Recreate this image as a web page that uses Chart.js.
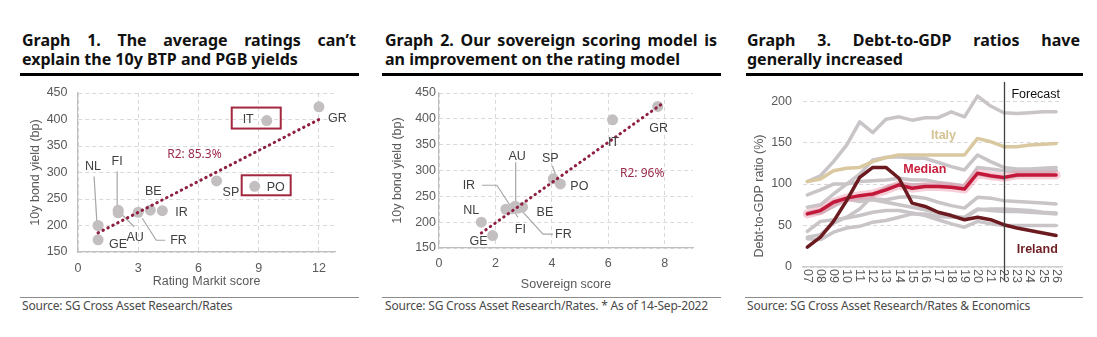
<!DOCTYPE html>
<html>
<head>
<meta charset="utf-8">
<script src="https://cdn.jsdelivr.net/npm/chart.js@4.4.1/dist/chart.umd.min.js"></script>
<style>
  body { margin: 0; background: #fff; width: 1097px; height: 337px; overflow: hidden; position: relative; font-family: "Noto Sans", sans-serif; }
  .title { position: absolute; top: 31px; font-weight: 700; font-size: 16px; line-height: 19px; color: #111; }
  .title div { white-space: nowrap; }
  .title .j { text-align: justify; text-align-last: justify; }
  .rule { position: absolute; top: 73px; height: 2.5px; background: #000; }
  .src-line { position: absolute; top: 297px; height: 1px; background: #8c8c8c; }
  .src { position: absolute; top: 299px; font-size: 12px; line-height: 14px; color: #4a4a4a; letter-spacing: -0.2px; white-space: nowrap; }
  canvas { position: absolute; }
</style>
</head>
<body>

<div class="title" style="left:22px;width:334px"><div class="j">Graph 1. The average ratings can’t</div><div>explain the 10y BTP and PGB yields</div></div>
<div class="rule" style="left:20px;width:339px"></div>
<canvas id="g1" width="340" height="212" style="left:20px;top:80px"></canvas>
<div class="src-line" style="left:20px;width:339px"></div>
<div class="src" style="left:22px">Source: SG Cross Asset Research/Rates</div>

<div class="title" style="left:385px;width:332px"><div class="j">Graph 2. Our sovereign scoring model is</div><div>an improvement on the rating model</div></div>
<div class="rule" style="left:382px;width:339px"></div>
<canvas id="g2" width="335" height="215" style="left:385px;top:80px"></canvas>
<div class="src-line" style="left:382px;width:339px"></div>
<div class="src" style="left:385px">Source: SG Cross Asset Research/Rates. * As of 14-Sep-2022</div>

<div class="title" style="left:747px;width:333px"><div class="j">Graph 3. Debt-to-GDP ratios have</div><div>generally increased</div></div>
<div class="rule" style="left:746px;width:337px"></div>
<canvas id="g3" width="335" height="214" style="left:745px;top:78px"></canvas>
<div class="src-line" style="left:745px;width:338px"></div>
<div class="src" style="left:747px">Source: SG Cross Asset Research/Rates &amp; Economics</div>

<script>
// graph 1 & 2: same country order
const countries = ["GR", "IT", "PO", "SP", "IR", "BE", "FR", "AU", "FI", "NL", "GE"];
const markitScore = [12.0, 9.4, 8.8, 6.9, 4.2, 3.6, 3.0, 2.0, 2.0, 1.0, 1.0];
const yieldMarkit = [424, 398, 274, 284, 228, 229, 225, 224, 229, 200, 173];
const trendMarkitX = [1, 12];
const trendMarkitY = [186, 400];
const r2Markit = "R2: 85.3%";
const boxedCountries = ["IT", "PO"];

const sovereignScore = [7.75, 6.15, 4.3, 4.05, 2.37, 2.96, 2.8, 2.7, 2.6, 1.5, 1.9];
const yieldSovereign = [424, 398, 274, 284, 225, 229, 227, 231, 226, 200, 174];
const trendSovX = [1.5, 7.9];
const trendSovY = [179, 429];
const r2Sov = "R2: 96%";

// graph 3
const years = ["07", "08", "09", "10", "11", "12", "13", "14", "15", "16", "17", "18", "19", "20", "21", "22", "23", "24", "25", "26"];
const forecastFrom = "22";
const greece      = [103, 110, 127, 147, 175, 162, 178, 181, 177, 180, 180, 187, 181, 206, 194, 186, 185, 186, 187, 187];
const italy       = [103, 106, 116, 119, 120, 127, 132, 135, 135, 135, 135, 135, 135, 155, 151, 145, 145, 147, 148, 149];
const portugal    = [72, 75, 88, 100, 112, 129, 132, 133, 131, 131, 126, 121, 117, 135, 127, 120, 118, 118, 119, 120];
const belgium     = [87, 93, 100, 100, 103, 104, 105, 107, 105, 105, 102, 100, 98, 112, 109, 107, 110, 112, 114, 116];
const spain       = [36, 39, 53, 60, 70, 86, 96, 100, 99, 99, 98, 98, 98, 120, 118, 116, 115, 115, 116, 117];
const austria     = [65, 68, 79, 82, 82, 82, 81, 84, 85, 83, 78, 74, 71, 84, 83, 80, 79, 78, 77, 76];
const germany     = [64, 65, 73, 82, 79, 81, 78, 75, 72, 69, 65, 62, 59, 69, 70, 70, 69, 68, 66, 65];
const finland     = [34, 33, 42, 47, 49, 54, 56, 60, 64, 64, 61, 60, 60, 70, 68, 67, 67, 66, 65, 64];
const netherlands = [43, 55, 57, 59, 62, 66, 68, 68, 65, 62, 57, 52, 48, 55, 52, 50, 50, 50, 50, 50];
const median      = [64, 68, 78, 83, 86, 88, 93, 99, 95, 97, 97, 96, 94, 113, 110, 108, 111, 111, 111, 111];
const ireland     = [24, 36, 55, 80, 108, 120, 120, 107, 77, 73, 66, 62, 57, 60, 57, 51, 47, 44, 41, 38];

const AX_FONT = "'Liberation Sans', Arial, sans-serif";
const TICK_COLOR = "#595959";
const GRID_COLOR = "#d9d9d9";
const AXIS_COLOR = "#bfbfbf";

Chart.defaults.font.family = AX_FONT;
Chart.defaults.color = TICK_COLOR;

// fixed axis sizes so the plot areas land where the reference has them
function fixWidth(w) {
  return (s) => { s.width = w; s.paddingTop = s.paddingBottom = s.paddingLeft = s.paddingRight = 0; };
}
function fixHeight(h) {
  return (s) => { s.height = h; s.paddingTop = s.paddingBottom = s.paddingLeft = s.paddingRight = 0; };
}
// ticks only at whole steps from the axis minimum, never at an odd max
function onStep(step) {
  return (s) => {
    const out = [];
    for (let v = s.min; v <= s.max + 1e-9; v += step) out.push({ value: Math.round(v * 1e6) / 1e6 });
    s.ticks = out;
  };
}

// label placement (pixels relative to each point)
const place1 = {
  GR: { dx: 9, dy: 12, align: "left" },
  IT: { dx: -13, dy: -1, align: "right", box: [-35, -13, 14, 8] },
  PO: { dx: 12, dy: 1, align: "left", box: [-13, -11, 36, 9] },
  SP: { dx: 6, dy: 12, align: "left" },
  IR: { dx: 13, dy: 2, align: "left" },
  BE: { dx: 3, dy: -19, align: "center" },
  FR: { dx: 32, dy: 28, align: "left", leader: [[4, 6], [18, 28], [27, 28]] },
  AU: { dx: 17, dy: 25, align: "center", leader: [[2, 0], [16, 14]] },
  FI: { dx: -1, dy: -49, align: "center", leader: [[-1, -39], [-1, 0]] },
  NL: { dx: -5, dy: -59, align: "center", leader: [[-4, -49], [-1, 0]] },
  GE: { dx: 11, dy: 5, align: "left" }
};
const place2 = {
  GR: { dx: 1, dy: 22, align: "center" },
  IT: { dx: 1, dy: 23, align: "center" },
  SP: { dx: -3, dy: -20, align: "center", leader: [[-1, -13], [3, -2]] },
  PO: { dx: 10, dy: 3, align: "left" },
  BE: { dx: 14, dy: 5, align: "left" },
  FR: { dx: 37, dy: 26, align: "left", leader: [[4, 3], [25, 26], [35, 26]] },
  FI: { dx: 8, dy: 21, align: "center" },
  AU: { dx: 2, dy: -50, align: "center", leader: [[0.5, -44], [0.5, 0]] },
  IR: { dx: -37, dy: -24, align: "center", leader: [[-24, -24], [-9, -24], [12, 8]] },
  NL: { dx: -10, dy: -12, align: "center" },
  GE: { dx: -14, dy: 6, align: "center" }
};

function scatterLabels(place, boxed, r2Text, r2At) {
  return {
    id: "scatterLabels",
    beforeDatasetsDraw(chart) {
      const ctx = chart.ctx;
      const pts = chart.getDatasetMeta(1).data;
      ctx.save();
      ctx.strokeStyle = "#a6a6a6";
      ctx.lineWidth = 1.2;
      countries.forEach((name, i) => {
        const p = place[name];
        if (!p.leader) return;
        const el = pts[i];
        ctx.beginPath();
        p.leader.forEach(([dx, dy], k) => {
          if (k === 0) ctx.moveTo(el.x + dx, el.y + dy);
          else ctx.lineTo(el.x + dx, el.y + dy);
        });
        ctx.stroke();
      });
      ctx.restore();
    },
    afterDatasetsDraw(chart) {
      const { ctx, scales } = chart;
      const pts = chart.getDatasetMeta(1).data;
      ctx.save();
      ctx.font = "12.5px " + AX_FONT;
      ctx.textBaseline = "middle";
      countries.forEach((name, i) => {
        const p = place[name];
        const el = pts[i];
        ctx.fillStyle = "#404040";
        ctx.textAlign = p.align;
        ctx.fillText(name, el.x + p.dx, el.y + p.dy);
        if (boxed.includes(name) && p.box) {
          const [l, t, r, b] = p.box;
          ctx.strokeStyle = "#a3283f";
          ctx.lineWidth = 2;
          ctx.strokeRect(el.x + l, el.y + t, r - l, b - t);
        }
      });
      ctx.font = "12px 'Noto Sans', sans-serif";
      ctx.fillStyle = "#9c2a4b";
      ctx.textAlign = "center";
      ctx.fillText(r2Text, scales.x.getPixelForValue(r2At.x), scales.y.getPixelForValue(r2At.y));
      ctx.restore();
    }
  };
}

function scatterChart(id, xs, ys, trendX, trendY, geo) {
  const tickFont = { size: 12.5, family: AX_FONT };
  return new Chart(document.getElementById(id), {
    type: "scatter",
    data: {
      datasets: [
        {
          data: trendX.map((x, i) => ({ x: x, y: trendY[i] })),
          showLine: true,
          pointRadius: 0,
          borderColor: "#8e1f3f",
          borderWidth: 3,
          borderDash: [0.5, 5],
          borderCapStyle: "round"
        },
        {
          data: xs.map((x, i) => ({ x: x, y: ys[i] })),
          pointRadius: 5.5,
          pointBackgroundColor: "#c3bec0",
          pointBorderWidth: 0
        }
      ]
    },
    options: {
      responsive: false,
      animation: false,
      events: [],
      layout: { padding: { left: 0, top: 13, right: geo.right, bottom: 0 } },
      plugins: { legend: { display: false }, tooltip: { enabled: false } },
      scales: {
        x: {
          type: "linear", min: 0, max: geo.xMax,
          afterBuildTicks: onStep(geo.xStep),
          ticks: { stepSize: geo.xStep, padding: geo.xPad, color: TICK_COLOR, font: tickFont },
          grid: { color: GRID_COLOR, drawTicks: false },
          border: { color: AXIS_COLOR, width: 1.2, dash: [4, 3] },
          title: { display: true, text: geo.xTitle, color: TICK_COLOR, font: tickFont, padding: { top: 0, bottom: 2.5 } },
          afterFit: fixHeight(geo.xH)
        },
        y: {
          min: 150, max: 450,
          afterBuildTicks: onStep(50),
          ticks: { stepSize: 50, padding: geo.yPad, color: TICK_COLOR, font: tickFont },
          grid: { color: GRID_COLOR, drawTicks: false },
          border: { color: AXIS_COLOR, width: 1.2, dash: [4, 3] },
          title: { display: true, text: "10y bond yield (bp)", color: TICK_COLOR, font: tickFont, padding: { top: geo.yTitlePad, bottom: 0 } },
          afterFit: fixWidth(geo.yW)
        }
      }
    },
    plugins: [scatterLabels(geo.place, geo.boxed, geo.r2, geo.r2At)]
  });
}

scatterChart("g1", markitScore, yieldMarkit, trendMarkitX, trendMarkitY, {
  xMax: 12.8, xStep: 3, xTitle: "Rating Markit score", right: 25, xH: 40, yW: 58,
  xPad: 9.5, yPad: 10.5, yTitlePad: 8.5,
  place: place1, boxed: boxedCountries, r2: r2Markit, r2At: { x: 5.8, y: 333 }
});

scatterChart("g2", sovereignScore, yieldSovereign, trendSovX, trendSovY, {
  xMax: 9, xStep: 2, xTitle: "Sovereign score", right: 27, xH: 47, yW: 54,
  xPad: 8.5, yPad: 3, yTitlePad: 5.5,
  place: place2, boxed: [], r2: r2Sov, r2At: { x: 7.2, y: 295 }
});

// ---- graph 3 ----
const g3Tags = [
  { text: "Italy", x: 10.4, y: 159, color: "#d6c394", align: "center", bold: true },
  { text: "Median", x: 8.97, y: 117, color: "#c8203c", align: "center", bold: true },
  { text: "Ireland", x: 19.13, y: 20.5, color: "#6e1e22", align: "right", bold: true },
  { text: "Forecast", x: 19.3, y: 208, color: "#111111", align: "right", bold: false }
];

function lineSet(series, color, width) {
  return {
    data: series.map((v, i) => ({ x: i, y: v })),
    showLine: true,
    pointRadius: 0,
    borderColor: color,
    borderWidth: width,
    borderJoinStyle: "round",
    borderCapStyle: "round",
    tension: 0
  };
}

const grey = "#c9c4c7";
const g3Plugin = {
  id: "g3Extras",
  afterDatasetsDraw(chart) {
    const { ctx, scales, chartArea } = chart;
    const xs = scales.x, ys = scales.y;
    ctx.save();
    // forecast divider
    const fx = Math.round(xs.getPixelForValue(years.indexOf(forecastFrom))) + 0.5;
    ctx.strokeStyle = "#404040";
    ctx.lineWidth = 1.3;
    ctx.beginPath();
    ctx.moveTo(fx, chartArea.top);
    ctx.lineTo(fx, chartArea.bottom + 14);
    ctx.stroke();
    // year labels, rotated clockwise
    ctx.font = "12.5px " + AX_FONT;
    ctx.fillStyle = TICK_COLOR;
    ctx.textAlign = "left";
    ctx.textBaseline = "middle";
    xs.ticks.forEach((t) => {
      ctx.save();
      ctx.translate(xs.getPixelForValue(t.value), chartArea.bottom + 2);
      ctx.rotate(Math.PI / 2);
      ctx.fillText(years[t.value], 0, 0);
      ctx.restore();
    });
    // y title
    ctx.save();
    ctx.translate(15, 118);
    ctx.rotate(-Math.PI / 2);
    ctx.textAlign = "center";
    ctx.fillText("Debt-to-GDP ratio (%)", 0, 0);
    ctx.restore();
    // series tags
    g3Tags.forEach((g) => {
      ctx.font = (g.bold ? "bold " : "") + "12.5px " + AX_FONT;
      ctx.fillStyle = g.color;
      ctx.textAlign = g.align;
      ctx.fillText(g.text, xs.getPixelForValue(g.x), ys.getPixelForValue(g.y));
    });
    ctx.restore();
  }
};

new Chart(document.getElementById("g3"), {
  type: "scatter",
  data: {
    datasets: [
      lineSet(ireland, "#6b1b1f", 3.5),
      lineSet(median, "#c4183a", 3.5),
      lineSet(median, "rgba(236,150,170,0.45)", 9),
      lineSet(italy, "#d9c8a0", 3.5),
      lineSet(greece, grey, 3.5),
      lineSet(portugal, grey, 3.5),
      lineSet(belgium, grey, 3.5),
      lineSet(spain, grey, 3.5),
      lineSet(austria, grey, 3.5),
      lineSet(germany, grey, 3.5),
      lineSet(finland, grey, 3.5),
      lineSet(netherlands, grey, 3.5)
    ]
  },
  options: {
    responsive: false,
    animation: false,
    events: [],
    layout: { padding: { left: 0, top: 4, right: 18, bottom: 0 } },
    plugins: { legend: { display: false }, tooltip: { enabled: false } },
    scales: {
      x: {
        type: "linear", min: -0.33, max: 19.45,
        afterBuildTicks: (s) => { s.ticks = years.map((_, i) => ({ value: i })); },
        ticks: { display: false },
        grid: { display: false },
        border: { display: true, color: "#d0d0d0", width: 1.5 },
        afterFit: fixHeight(25)
      },
      y: {
        min: 0, max: 223,
        afterBuildTicks: onStep(50),
        ticks: { stepSize: 50, padding: 11, color: TICK_COLOR, font: { size: 12.5, family: AX_FONT } },
        grid: { color: GRID_COLOR, drawTicks: false },
        border: { display: false, dash: [4, 3] },
        afterFit: fixWidth(58)
      }
    }
  },
  plugins: [g3Plugin]
});
</script>
</body>
</html>
